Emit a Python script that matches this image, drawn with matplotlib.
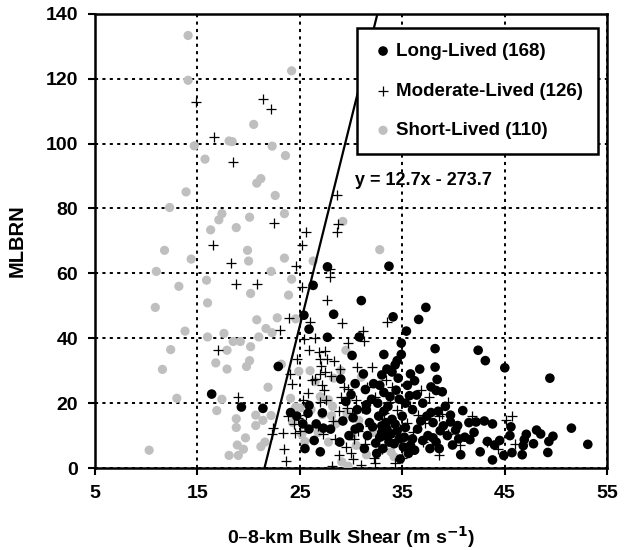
import matplotlib
matplotlib.use("Agg")
import matplotlib.pyplot as plt
import numpy as np

# ---- data ----
long_pts = [
(16.4,22.8),(19.3,18.8),(21.4,18.4),(22.9,31.3),(24.1,17.1),(24.7,16.0),(25.3,13.6),(25.4,47.1),
(25.5,6.0),(25.9,42.8),(25.9,19.3),(25.8,16.9),(25.9,12.0),(26.3,56.3),(26.6,13.6),(27.0,5.0),
(27.3,12.3),(27.7,62.0),(27.7,40.3),(28.3,47.4),(29.0,27.4),(29.2,14.5),(30.0,22.6),(30.1,34.7),
(30.4,12.0),(30.4,26.0),(30.8,40.4),(31.0,51.6),(31.3,6.0),(31.4,24.2),(31.5,17.9),(32.0,21.2),
(32.2,26.0),(32.1,12.7),(32.4,7.7),(33.0,28.7),(33.2,35.0),(33.2,23.3),(33.7,62.2),(34.1,46.6),
(34.0,29.6),(34.3,31.8),(34.5,33.1),(34.6,27.7),(34.7,21.2),(34.8,2.8),(34.9,38.5),(35.4,42.2),
(35.5,25.5),(35.7,22.3),(36.2,26.9),(36.6,45.8),(37.3,49.5),(38.2,36.8),(38.2,31.1),(38.4,27.3),
(38.3,23.9),(38.9,23.5),(37.8,17.1),(39.7,16.3),(40.9,17.7),(42.4,36.3),(43.1,33.1),(42.2,14.2),
(43.8,13.6),(45.0,30.9),(45.6,12.7),(49.4,27.7),(48.1,11.7),(51.5,12.3),(53.1,7.3),(49.7,9.8),
(49.3,8.2),(49.2,4.8),(47.1,10.4),(46.9,8.75),(46.8,6.9),(46.7,4.1),(45.7,4.75),(44.9,3.9),
(43.8,2.5),(44.0,7.1),(43.3,8.2),(42.6,5.0),(41.6,8.75),(41.1,9.5),(40.7,4.1),(39.9,7.1),
(40.2,11.7),(40.4,13.1),(39.7,14.2),(38.7,11.5),(38.6,6.0),(38.0,9.3),(37.5,10.0),(37.0,8.5),
(36.8,14.5),(36.5,12.0),(36.2,5.5),(36.0,9.0),(35.8,7.0),(35.6,4.5),(35.3,12.5),(35.2,9.5),
(35.0,16.0),(35.1,6.5),(34.7,9.0),(34.5,11.5),(34.3,13.5),(34.2,7.5),(34.0,15.0),(33.9,10.5),
(33.7,8.0),(33.5,12.0),(33.4,14.0),(33.3,10.0),(33.2,17.5),(33.1,6.0),(33.0,11.0),(33.0,13.0),
(32.8,9.5),(32.7,16.0),(32.6,20.0),(32.5,4.5),(33.6,19.0),(33.8,22.0),(34.4,24.0),(35.3,20.0),
(36.0,18.0),(36.4,22.5),(37.0,20.0),(37.4,16.0),(38.0,14.0),(38.5,17.5),(39.2,19.0),(39.0,13.0),
(38.3,8.0),(37.7,6.0),(39.4,10.0),(40.5,9.0),(41.5,14.0),(42.0,11.0),(43.0,14.5),(44.5,8.5),
(45.5,10.0),(47.8,7.5),(48.5,10.5),(30.8,12.5),(31.6,10.0),(31.8,14.0),(30.6,18.0),(29.8,10.0),
(28.9,8.0),(28.0,12.0),(27.2,17.0),(26.4,8.5),(31.2,29.0),(32.8,25.5),(34.9,35.0),(33.5,30.5),
(36.7,30.5),(37.8,25.0),(35.8,29.0),(31.5,19.5),(30.2,15.5),(29.5,20.5),
]
mod_pts = [
(14.9,112.7),(16.6,101.9),(18.5,94.4),(16.5,68.7),(18.3,63.1),(18.8,56.8),(20.8,56.6),(17.0,36.5),
(19.0,22.0),(21.4,113.8),(22.2,110.8),(22.5,75.6),(23.1,42.6),(23.9,46.2),(24.6,62.4),(25.2,68.7),
(25.6,72.8),(25.2,55.7),(25.4,39.8),(28.6,84.2),(28.7,75.2),(28.6,72.8),(27.9,58.8),(27.9,61.4),
(27.7,51.7),(29.1,44.7),(31.2,42.2),(31.3,39.0),(33.5,44.9),(37.6,21.9),(45.1,14.7),(45.7,16.0),
(38.6,3.9),(38.6,16.1),(23.7,2.2),(28.1,0.6),(28.8,3.9),(30.2,2.8),(32.3,1.7),(22.4,12.3),
(22.3,10.4),(23.4,10.9),(24.4,13.6),(24.5,10.9),(24.8,15.5),(25.0,11.5),(25.3,21.0),(25.6,16.5),
(25.8,23.0),(26.2,27.0),(26.9,35.8),(27.0,33.6),(27.1,31.5),(27.7,33.6),(26.5,27.3),(27.0,29.0),
(27.2,25.5),(27.4,24.0),(27.0,20.5),(27.6,21.0),(28.9,30.4),(28.0,28.5),(27.5,29.5),(29.3,25.0),
(29.7,24.5),(28.8,17.5),(29.6,18.5),(30.1,17.0),(30.3,9.0),(30.7,11.5),(31.1,18.5),(32.0,31.0),
(31.8,13.0),(32.6,8.5),(33.0,15.0),(33.2,17.0),(33.0,6.0),(34.5,18.0),(35.8,19.0),(36.5,16.5),
(37.2,14.0),(38.9,16.8),(39.5,10.5),(40.6,7.0),(43.3,8.0),(44.3,6.0),(46.0,7.5),(35.0,3.0),
(36.0,11.0),(34.0,25.0),(33.4,27.0),(28.3,33.0),(29.0,22.0),(30.5,21.0),(31.6,25.0),(32.3,22.0),
(24.2,25.8),(23.8,16.0),(24.0,29.0),(26.8,13.0),(27.3,10.5),(28.4,9.0),(29.5,6.5),(30.0,4.5),
(31.0,1.0),(31.4,7.5),(32.2,3.0),(34.3,1.5),(26.5,40.0),(27.5,36.0),(25.9,36.5),(29.7,38.5),
(30.6,31.0),(26.0,45.0),(24.7,33.5),(23.5,6.0),(28.2,14.5),(34.8,12.0),(36.8,24.0),(39.5,20.5),
(41.8,16.0),(33.8,20.5),(35.5,14.0),(37.0,8.0),
]
short_pts = [
(10.3,5.5),(10.9,49.5),(11.0,60.6),(11.8,67.1),(11.6,30.4),(12.3,80.3),(12.4,36.5),(13.0,21.5),
(13.2,56.0),(13.9,85.1),(13.8,42.2),(14.1,133.3),(14.1,119.5),(14.4,64.4),(14.7,99.3),(15.75,95.2),
(15.9,57.9),(16.0,50.9),(16.0,40.4),(16.3,73.4),(16.8,32.4),(16.9,17.7),(17.1,76.5),(17.4,78.4),
(17.4,21.2),(17.6,41.5),(17.9,36.3),(17.9,30.5),(18.1,3.9),(18.1,100.8),(18.4,100.6),(18.5,39.0),
(18.8,74.1),(18.8,15.2),(18.8,12.5),(18.9,7.1),(19.0,3.9),(19.2,39.0),(19.5,5.8),(19.7,9.3),
(19.8,31.3),(19.9,67.1),(20.0,63.8),(20.1,33.1),(20.2,53.8),(20.1,77.3),(20.2,37.4),(20.5,105.9),
(20.7,16.3),(20.7,13.1),(20.8,45.7),(20.8,87.8),(21.0,40.4),(21.2,89.2),(21.2,6.6),(21.4,14.7),
(21.6,8.0),(21.7,43.0),(21.9,24.9),(22.2,60.6),(22.2,16.2),(22.3,99.2),(22.3,41.7),(22.6,84.0),
(22.8,46.3),(23.2,32.0),(23.5,64.7),(23.6,96.3),(23.5,78.4),(23.9,53.3),(24.1,21.5),(24.2,58.2),
(24.2,122.4),(24.6,18.8),(24.6,46.0),(24.9,29.8),(25.2,10.4),(25.5,8.2),(26.3,63.8),(26.5,26.6),
(26.1,18.0),(26.8,11.0),(27.8,8.0),(28.2,19.0),(28.1,16.1),(28.3,27.7),(28.5,13.6),(29.2,76.0),
(29.5,36.3),(29.1,1.9),(29.7,0.6),(30.1,9.8),(30.75,14.7),(31.5,4.1),(32.8,67.3),(33.9,5.0),
(27.2,16.5),(26.0,30.0),(25.0,18.5),(29.6,16.8),(30.5,7.0),(27.0,22.0),(32.2,11.0),(34.2,3.5),
(24.3,14.0),(27.8,21.0),(29.0,30.0),(31.0,28.0),
]
slope, intercept = 12.7, -273.7
x_ticks = [5, 15, 25, 35, 45, 55]
y_ticks = [0, 20, 40, 60, 80, 100, 120, 140]

plt.rcParams['font.family'] = ['Liberation Sans', 'DejaVu Sans']
plt.rcParams['font.weight'] = 'bold'

fig = plt.figure(figsize=(6.28, 5.5), dpi=100)
ax = fig.add_axes([0.151, 0.149, 0.816, 0.826])

lx, ly = zip(*long_pts)
mx, my = zip(*mod_pts)
sx, sy = zip(*short_pts)

ax.scatter(sx, sy, s=44, color='#bfbfbf', edgecolors='none', zorder=3, label='Short-Lived (110)')
ax.scatter(lx, ly, s=48, color='black', edgecolors='none', zorder=4, label='Long-Lived (168)')
ax.scatter(mx, my, s=45, marker='+', color='black', linewidths=0.9, zorder=5, label='Moderate-Lived (126)')

xl = np.array([-intercept / slope, (140 - intercept) / slope])
ax.plot(xl, slope * xl + intercept, color='black', lw=1.6, zorder=6)
ax.text(30.4, 88.5, 'y = 12.7x - 273.7', fontsize=13, fontweight='bold', va='center', ha='left', zorder=7)

ax.set_xlim(5, 55)
ax.set_ylim(0, 140)
ax.set_xticks(x_ticks)
ax.set_yticks(y_ticks)
ax.grid(True, color='black', linestyle=(0, (1.6, 2.2)), linewidth=1.4, zorder=1)
ax.set_axisbelow(True)
for sp in ax.spines.values():
    sp.set_linewidth(1.8)
ax.tick_params(direction='out', length=5, width=1.5, labelsize=14, pad=7)
for lab in ax.get_xticklabels() + ax.get_yticklabels():
    lab.set_fontweight('bold')

ax.set_xlabel('0\u20138-km Bulk Shear (m s$^{\\mathbf{-1}}$)', fontsize=14, fontweight='bold', labelpad=16)
ax.set_ylabel('MLBRN', fontsize=14.5, fontweight='bold', labelpad=14)

handles, labels = ax.get_legend_handles_labels()
order = [1, 2, 0]
leg = ax.legend([handles[i] for i in order], [labels[i] for i in order],
                loc='upper right', bbox_to_anchor=(0.982, 0.969), frameon=True, fancybox=False,
                framealpha=1, edgecolor='black', labelspacing=1.2,
                handletextpad=0.1, handlelength=1.2, borderpad=0.8, borderaxespad=0,
                prop={'weight': 'bold', 'size': 13.5})
leg.get_frame().set_linewidth(1.8)
leg.set_zorder(10)

fig.savefig('out.png', dpi=100)
